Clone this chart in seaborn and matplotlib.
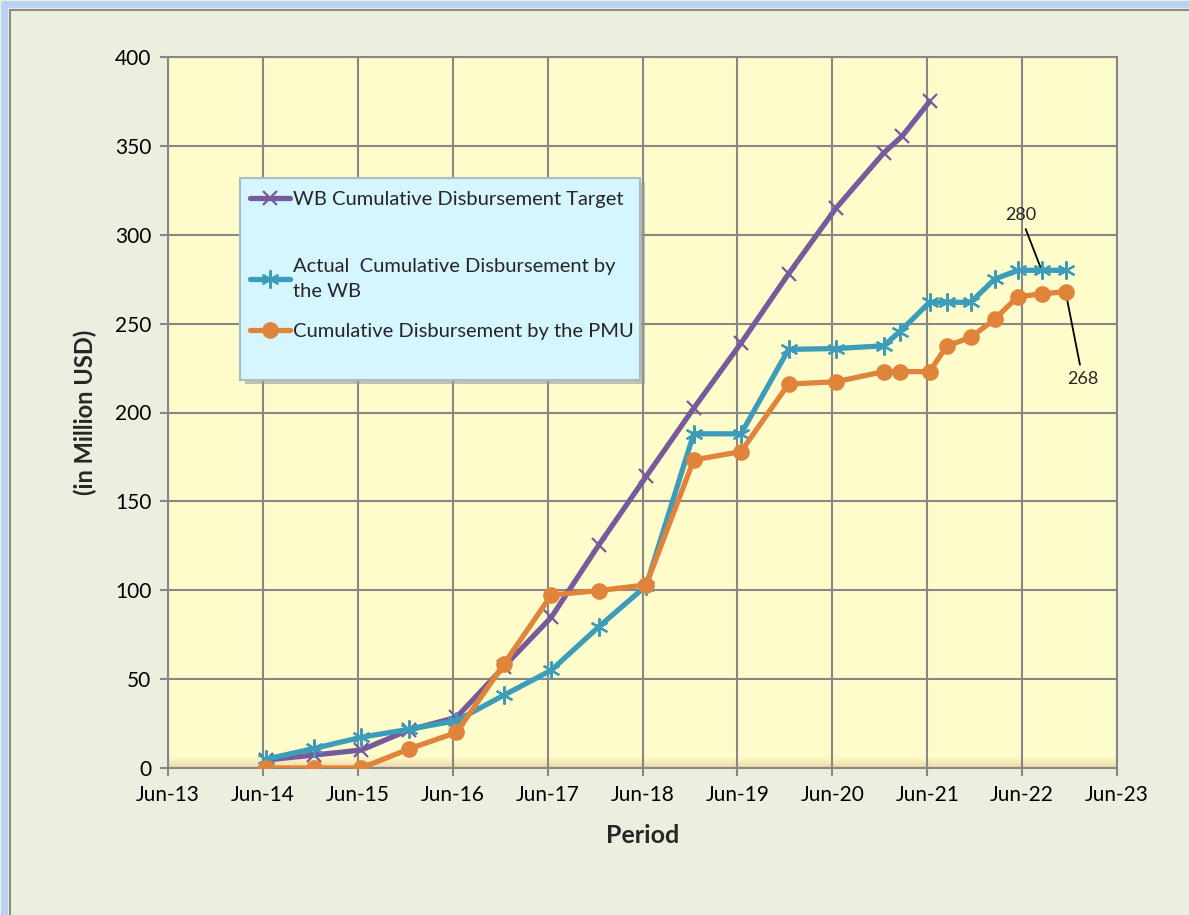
import numpy as np
import pandas as pd
import matplotlib
matplotlib.use("Agg")
import matplotlib.pyplot as plt
import seaborn as sns
from matplotlib.patches import Rectangle
from matplotlib.lines import Line2D
from matplotlib.colors import LinearSegmentedColormap

# ---------------- data ----------------
target_dates = ["2014-06-15", "2014-12-15", "2015-06-15", "2015-12-15", "2016-06-15",
                "2016-12-15", "2017-06-15", "2017-12-15", "2018-06-15", "2018-12-15",
                "2019-06-15", "2019-12-15", "2020-06-15", "2020-12-15", "2021-02-25",
                "2021-06-10"]
target_vals = [4.5, 7.3, 10.1, 21.4, 28.5, 57, 84.8, 125.5, 164, 202.4,
               239, 278, 315, 346, 355.6, 375]

actual_dates = ["2014-06-15", "2014-12-15", "2015-06-15", "2015-12-15", "2016-06-15",
                "2016-12-15", "2017-06-15", "2017-12-15", "2018-06-15", "2018-12-15",
                "2019-06-15", "2019-12-15", "2020-06-15", "2020-12-15", "2021-02-15",
                "2021-06-10", "2021-08-15", "2021-11-15", "2022-02-15", "2022-05-15",
                "2022-08-15", "2022-11-15"]
wb_vals = [5, 11, 17.3, 21.8, 26.6, 41, 55, 79.5, 102.5, 188,
           188, 235.5, 236, 237.5, 245.5, 262, 262, 262, 275, 280,
           280, 280]
pmu_vals = [0, 0, 0, 10.7, 20, 58.5, 97.3, 99.8, 103, 173.3,
            178, 216, 217.3, 223, 223, 223, 237.4, 242.3, 252.4, 265.2,
            266.7, 268]

series_labels = ["WB Cumulative Disbursement Target",
                 "Actual  Cumulative Disbursement by\nthe WB",
                 "Cumulative Disbursement by the PMU"]
tick_dates = ["2013-06-01", "2014-06-01", "2015-06-01", "2016-06-01", "2017-06-01",
              "2018-06-01", "2019-06-01", "2020-06-01", "2021-06-01", "2022-06-01",
              "2023-06-01"]
tick_labels = ["Jun-13", "Jun-14", "Jun-15", "Jun-16", "Jun-17", "Jun-18",
               "Jun-19", "Jun-20", "Jun-21", "Jun-22", "Jun-23"]
y_ticks = [0, 50, 100, 150, 200, 250, 300, 350, 400]

# ---------------- style ----------------
sns.set_theme(style="white")
plt.rcParams['font.family'] = ['Lato', 'DejaVu Sans']

purple = "#775A9C"
teal = "#3B9DB9"
orange = "#E0843C"
grid_c = "#878787"
fig_bg = "#ECEEDF"
plot_bg = "#FFFCCC"

W, H = 1189, 915
fig = plt.figure(figsize=(W / 100, H / 100), dpi=100, facecolor=fig_bg)

# outer frame (glow + gray border)
fig.add_artist(Line2D([4 / W, 4 / W], [0, 1 - 4 / H], transform=fig.transFigure,
                      color="#B7D3F3", lw=5, zorder=0))
fig.add_artist(Line2D([4 / W, 1], [1 - 4 / H, 1 - 4 / H], transform=fig.transFigure,
                      color="#B7D3F3", lw=5, zorder=0))
fig.add_artist(Line2D([10 / W, 10 / W], [0, 1 - 10 / H], transform=fig.transFigure,
                      color="#8A8A8A", lw=1.5, zorder=0))
fig.add_artist(Line2D([10 / W, 1], [1 - 10 / H, 1 - 10 / H], transform=fig.transFigure,
                      color="#8A8A8A", lw=1.5, zorder=0))

ax = fig.add_axes([168 / W, 1 - 768 / H, (1117 - 168) / W, (768 - 57) / H])
ax.set_facecolor(plot_bg)

# subtle bottom gradient of plot area
grad = np.linspace(0, 1, 50).reshape(-1, 1)
cm = LinearSegmentedColormap.from_list("g", ["#EED9A6", plot_bg])
ax.imshow(grad, aspect="auto", cmap=cm, extent=[0, 1, 0, 0.016],
          transform=ax.transAxes, origin="lower", zorder=0.5)

td = pd.to_datetime(target_dates)
ad = pd.to_datetime(actual_dates)

sns.lineplot(x=td, y=target_vals, ax=ax, color=purple, linewidth=3.8,
             marker="x", markersize=10, markeredgewidth=1.6,
             markeredgecolor=purple, label=series_labels[0], zorder=3)
sns.lineplot(x=ad, y=wb_vals, ax=ax, color=teal, linewidth=3.8,
             marker=(6, 2, 0), markersize=13, markeredgewidth=1.6,
             markeredgecolor=teal, label=series_labels[1], zorder=4)
sns.lineplot(x=ad, y=pmu_vals, ax=ax, color=orange, linewidth=3.8,
             marker="o", markersize=12, markeredgewidth=0,
             markerfacecolor=orange, markeredgecolor=orange,
             label=series_labels[2], zorder=5)

xt = pd.to_datetime(tick_dates)
ax.set_xlim(xt[0], xt[-1])
ax.set_ylim(0, 400)
ax.set_xticks(xt)
ax.set_xticklabels(tick_labels)
ax.set_yticks(y_ticks)
ax.set_yticklabels([str(v) for v in y_ticks])
ax.grid(True, color=grid_c, linewidth=1.5, zorder=1)
ax.set_axisbelow(True)
for s in ax.spines.values():
    s.set_color(grid_c)
    s.set_linewidth(1.5)
ax.tick_params(axis="both", which="major", direction="out", length=6, width=1.5,
               color=grid_c, labelsize=15, labelcolor="black", pad=6,
               bottom=True, left=True)
ax.set_xlabel("Period", fontsize=18, fontweight="bold", labelpad=14)
ax.set_ylabel("(in Million USD)", fontsize=17, fontweight="bold")
ax.yaxis.set_label_coords(-0.0745, 0.5)

# data labels with leader lines
ax.annotate("280", xy=(ad[20], wb_vals[20]), xytext=(pd.Timestamp("2022-05-25"), 311),
            ha="center", va="center", fontsize=13,
            arrowprops=dict(arrowstyle="-", color="black", lw=1.3, shrinkA=2, shrinkB=0))
ax.annotate("268", xy=(ad[21], pmu_vals[21]), xytext=(pd.Timestamp("2023-01-20"), 219),
            ha="center", va="center", fontsize=13,
            arrowprops=dict(arrowstyle="-", color="black", lw=1.3, shrinkA=2, shrinkB=0))

# legend box (drawn manually) + legend entries
handles, labels = ax.get_legend_handles_labels()
ax.get_legend().remove()
fig.add_artist(Rectangle((245 / W, 1 - 384 / H), 400 / W, 202 / H, transform=fig.transFigure,
                         facecolor="#9A9A9A", edgecolor="none", alpha=0.6, zorder=6))
fig.add_artist(Rectangle((240 / W, 1 - 380 / H), 400 / W, 202 / H, transform=fig.transFigure,
                         facecolor="#D5F6FE", edgecolor="#A9BCC4", lw=1.5, zorder=7))
entry_tops = [177, 244, 309]
for h, l, top in zip(handles, labels, entry_tops):
    lg = fig.legend([h], [l], loc="upper left",
                    bbox_to_anchor=(236 / W, 1 - top / H), frameon=False,
                    fontsize=14.5, handlelength=2.0, handletextpad=0.12,
                    borderpad=0.2)
    for t in lg.get_texts():
        t.set_linespacing(1.55)
    lg.set_zorder(8)

fig.savefig("out.png", dpi=100, facecolor=fig_bg)
